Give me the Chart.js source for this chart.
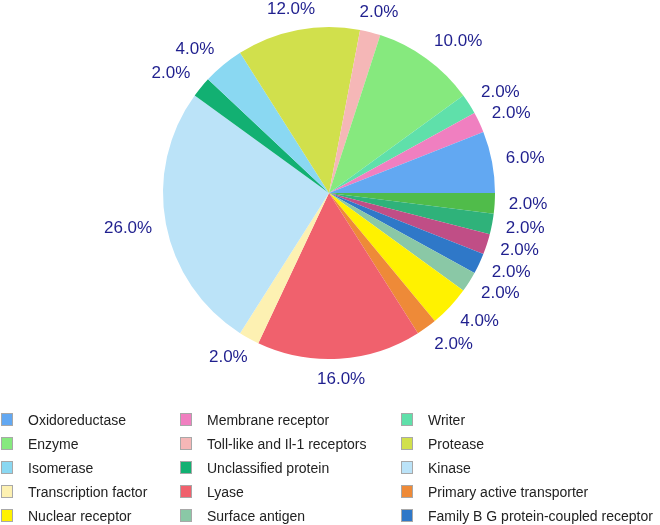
<!DOCTYPE html>
<html>
<head>
<meta charset="utf-8">
<script src="https://cdn.jsdelivr.net/npm/chart.js@4/dist/chart.umd.min.js"></script>
<style>
  html, body { margin: 0; padding: 0; background: #fff; overflow: hidden; }
  #wrap { position: relative; width: 660px; height: 525px; overflow: hidden; }
  #c { position: absolute; left: 0; top: 0; }
  #legend { position: absolute; left: 0; top: 408px; width: 660px; font: 14px "Liberation Sans", Arial, sans-serif; color: #222; }
  .item { position: absolute; height: 24px; line-height: 24px; white-space: nowrap; }
  .sw { position: absolute; left: 0; top: 5px; width: 10px; height: 11px; border: 1px solid #a8a8a8; }
  .tx { position: absolute; left: 27px; top: 0; }
</style>
</head>
<body>
<div id="wrap">
  <canvas id="c" width="660" height="525"></canvas>
  <div id="legend"></div>
</div>
<script>
// categories, counter-clockwise from 3 o'clock (same order as legend)
const labels = [
  'Oxidoreductase', 'Membrane receptor', 'Writer',
  'Enzyme', 'Toll-like and Il-1 receptors', 'Protease',
  'Isomerase', 'Unclassified protein', 'Kinase',
  'Transcription factor', 'Lyase', 'Primary active transporter',
  'Nuclear receptor', 'Surface antigen', 'Family B G protein-coupled receptor',
  'Transferase', 'Hydrolase', 'Ligand-gated ion channel'
];
const values = [6, 2, 2, 10, 2, 12, 4, 2, 26, 2, 16, 2, 4, 2, 2, 2, 2, 2];
const colors = [
  '#62a8f2', '#f07fc0', '#5fe0aa',
  '#86e97e', '#f5b7b7', '#d1e04c',
  '#8ad8f2', '#12b072', '#bbe3f8',
  '#fdf1b2', '#f0616d', '#ee8a38',
  '#fff200', '#8ac8a6', '#2f78c8',
  '#c04e86', '#2fb27a', '#50bc4a'
];

const total = values.reduce((a, b) => a + b, 0);

// Chart.js goes clockwise, the reference goes counter-clockwise -> feed reversed
const rLabels = labels.slice().reverse();
const rValues = values.slice().reverse();
const rColors = colors.slice().reverse();

const outsideLabels = {
  id: 'outsideLabels',
  afterDatasetsDraw(chart) {
    const ctx = chart.ctx;
    const meta = chart.getDatasetMeta(0);
    ctx.save();
    ctx.font = '17px "Liberation Sans", Arial, sans-serif';
    ctx.fillStyle = '#1f1f8e';
    ctx.textAlign = 'center';
    ctx.textBaseline = 'middle';
    meta.data.forEach((arc, i) => {
      const p = arc.getProps(['x', 'y', 'startAngle', 'endAngle', 'outerRadius'], true);
      const mid = (p.startAngle + p.endAngle) / 2;
      const cos = Math.cos(mid), sin = Math.sin(mid);
      const d = p.outerRadius + 14;
      const txt = (rValues[i] / total * 100).toFixed(1) + '%';
      const w = ctx.measureText(txt).width, h = 14;
      const f = Math.min(1, Math.pow(Math.abs(cos) / 0.6, 1.5)) * Math.sign(cos);
      const tx = p.x + cos * d + f * w / 2;
      const ty = p.y + sin * d + sin * h / 2;
      ctx.fillText(txt, tx, ty);
    });
    ctx.restore();
  }
};

new Chart(document.getElementById('c'), {
  type: 'pie',
  data: {
    labels: rLabels,
    datasets: [{
      data: rValues,
      backgroundColor: rColors,
      borderWidth: 0
    }]
  },
  options: {
    responsive: false,
    animation: false,
    rotation: 90,
    layout: { padding: { top: 27, bottom: 166, left: 163, right: 165 } },
    plugins: {
      legend: { display: false },
      tooltip: { enabled: false }
    }
  },
  plugins: [outsideLabels]
});

// html legend, 3 columns, row by row
const legend = document.getElementById('legend');
const colLeft = [1, 180, 401];
labels.forEach((name, i) => {
  const item = document.createElement('div');
  item.className = 'item';
  item.style.left = colLeft[i % 3] + 'px';
  item.style.top = (Math.floor(i / 3) * 24) + 'px';
  item.innerHTML = '<span class="sw" style="background:' + colors[i] + '"></span><span class="tx">' + name + '</span>';
  legend.appendChild(item);
});
</script>
</body>
</html>
